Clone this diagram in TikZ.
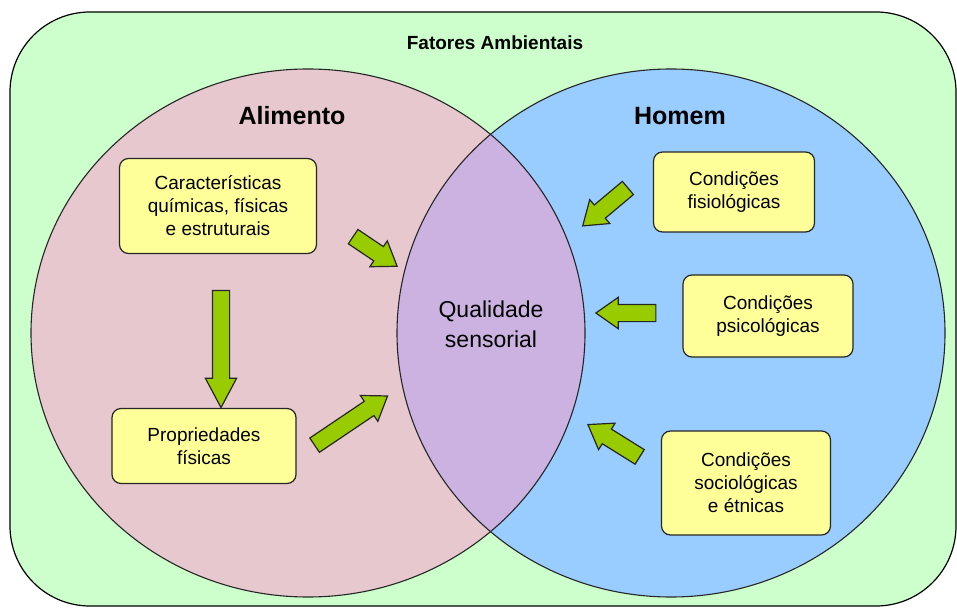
\documentclass[tikz,border=0pt]{standalone}
\usepackage{fontspec}
\setmainfont{Liberation Sans}
\usetikzlibrary{shapes.arrows}
\definecolor{ambiente}{RGB}{204,255,204}
\definecolor{alimento}{RGB}{230,200,206}
\definecolor{homem}{RGB}{153,204,255}
\definecolor{qualidade}{RGB}{204,178,224}
\definecolor{caixa}{RGB}{255,255,153}
\definecolor{seta}{RGB}{153,204,0}
\tikzset{fator/.style={draw=black!85,fill=caixa,line width=1.2pt,rounded corners=9pt,align=center,
  inner sep=0pt,font=\fontsize{19}{23}\selectfont},
 bloco/.style={single arrow,draw=black!85,fill=seta,line width=1.2pt,inner xsep=0pt,inner ysep=8pt,
  single arrow head extend=7pt,single arrow tip angle=70},
 rotulo/.style={font=\bfseries\fontsize{25}{30}\selectfont},
 circulo/.style={draw=black!85,line width=1.1pt}}

\begin{document}
\begin{tikzpicture}[x=1pt,y=-1pt]
\useasboundingbox (0,0) rectangle (957,609);
% fundo e conjuntos
\draw[fill=ambiente,line width=1.2pt,rounded corners=80pt] (10,12) rectangle (956,606);
\fill[alimento] (308,333) ellipse [x radius=277, y radius=264];
\fill[homem] (671,333) ellipse [x radius=274, y radius=264];
\begin{scope}
\clip (308,333) ellipse [x radius=277, y radius=264];
\fill[qualidade] (671,333) ellipse [x radius=274, y radius=264];
\end{scope}
\draw[circulo] (308,333) ellipse [x radius=277, y radius=264];
\draw[circulo] (671,333) ellipse [x radius=274, y radius=264];

\node[font=\bfseries\fontsize{19}{23}\selectfont] (FA) at (495,43) {Fatores Ambientais};
\node[rotulo] (AL) at (292,116) {Alimento};
\node[rotulo] (HO) at (680,116) {Homem};
\node[align=center,font=\fontsize{23}{30}\selectfont] (QS) at (491,324) {Qualidade\\sensorial};

\node[fator,minimum width=197pt,minimum height=95pt] (CQ) at (218,206) {Características\\químicas, físicas\\e estruturais};
\node[fator,minimum width=184pt,minimum height=75pt] (PF) at (204,446) {Propriedades\\físicas};
\node[fator,minimum width=161pt,minimum height=80pt] (CF) at (734,192) {Condições\\fisiológicas};
\node[fator,minimum width=170pt,minimum height=82pt] (CP) at (768,316) {Condições\\psicológicas};
\node[fator,minimum width=169pt,minimum height=104pt] (CS) at (746,483) {Condições\\sociológicas\\e étnicas};

% setas
\node[bloco,minimum height=53pt,rotate=-34] (S1) at (370,248) {};
\node[bloco,minimum height=117pt,rotate=-90,single arrow tip angle=56] (S2) at (221,341) {};
\node[bloco,minimum height=88pt,rotate=34] (S3) at (346,424) {};
\node[bloco,minimum height=59pt,rotate=-140] (S4) at (610,203) {};
\node[bloco,minimum height=60pt,rotate=180] (S5) at (632,313) {};
\node[bloco,minimum height=61pt,rotate=148] (S6) at (619,444) {};
\end{tikzpicture}
\end{document}
